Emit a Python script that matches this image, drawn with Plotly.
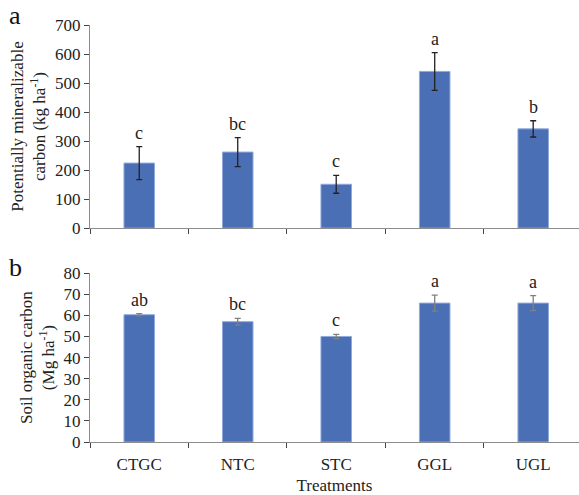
import plotly.graph_objects as go
from plotly.subplots import make_subplots

treatments = ["CTGC", "NTC", "STC", "GGL", "UGL"]
pmc_values = [224, 262, 151, 540, 342]
pmc_errors = [57, 50, 31, 65, 28]
pmc_letters = ["c", "bc", "c", "a", "b"]
soc_values = [60.3, 57.0, 50.0, 65.8, 65.8]
soc_errors = [0.5, 1.6, 1.0, 3.8, 3.5]
soc_letters = ["ab", "bc", "c", "a", "a"]

BAR = "#4a6fb5"
FONT = "Liberation Serif"
TXT = "#222222"

fig = make_subplots(rows=2, cols=1, shared_xaxes=False, vertical_spacing=0.1)

fig.add_trace(go.Bar(
    x=treatments, y=pmc_values, width=0.31,
    marker=dict(color=BAR, line=dict(color="#8fa9dc", width=1)),
    error_y=dict(type="data", array=pmc_errors, color="#222222", thickness=1.3, width=3),
), row=1, col=1)
fig.add_trace(go.Bar(
    x=treatments, y=soc_values, width=0.31,
    marker=dict(color=BAR, line=dict(color="#8fa9dc", width=1)),
    error_y=dict(type="data", array=soc_errors, color="#808080", thickness=1.3, width=3),
), row=2, col=1)

for t, v, e, l in zip(treatments, pmc_values, pmc_errors, pmc_letters):
    fig.add_annotation(x=t, y=v + e, text=l, showarrow=False, yanchor="bottom", yshift=2,
                       xref="x", yref="y", font=dict(family=FONT, size=18, color=TXT))
for t, v, e, l in zip(treatments, soc_values, soc_errors, soc_letters):
    fig.add_annotation(x=t, y=v + e, text=l, showarrow=False, yanchor="bottom", yshift=2,
                       xref="x2", yref="y2", font=dict(family=FONT, size=18, color=TXT))

fig.add_annotation(x=-0.17, y=1.0, xref="paper", yref="paper", text="a", showarrow=False,
                   xanchor="left", yanchor="middle", yshift=10, font=dict(family=FONT, size=26, color="#111"))
fig.add_annotation(x=-0.17, y=0.405, xref="paper", yref="paper", text="b", showarrow=False,
                   xanchor="left", yanchor="middle", yshift=6, font=dict(family=FONT, size=26, color="#111"))

xcommon = dict(type="category", range=[-0.5, 4.465], showline=True, linecolor="#8c8c8c", linewidth=1.3,
               ticks="outside", tickson="boundaries", ticklen=5, tickcolor="#444", showgrid=False,
               zeroline=False)
ycommon = dict(showline=True, linecolor="#8c8c8c", linewidth=1.3, ticks="outside", ticklen=5,
               tickcolor="#444", showgrid=False, zeroline=False,
               tickfont=dict(family=FONT, size=17, color=TXT))

fig.update_xaxes(**xcommon, showticklabels=False, row=1, col=1)
fig.update_xaxes(**xcommon, showticklabels=True, tickfont=dict(family=FONT, size=17, color=TXT),
                 ticklabelstandoff=6,
                 title=dict(text="Treatments", font=dict(family=FONT, size=17, color=TXT), standoff=6),
                 row=2, col=1)
fig.update_yaxes(**ycommon, range=[0, 700], dtick=100,
                 title=dict(text="Potentially mineralizable<br>carbon (kg ha<sup>-1</sup>)",
                            font=dict(family=FONT, size=17, color=TXT), standoff=4),
                 row=1, col=1)
fig.update_yaxes(**ycommon, range=[0, 80], dtick=10,
                 title=dict(text="Soil organic carbon<br>(Mg ha<sup>-1</sup>)",
                            font=dict(family=FONT, size=17, color=TXT), standoff=4),
                 row=2, col=1)

fig.update_layout(
    width=579, height=495, showlegend=False,
    margin=dict(l=90, r=0, t=25, b=53),
    paper_bgcolor="white", plot_bgcolor="white",
    font=dict(family=FONT),
    xaxis=dict(domain=[0, 1]), xaxis2=dict(domain=[0, 1]),
    yaxis=dict(domain=[0.513, 1.0]), yaxis2=dict(domain=[0.0, 0.405]),
)

fig.write_html("out.html")
